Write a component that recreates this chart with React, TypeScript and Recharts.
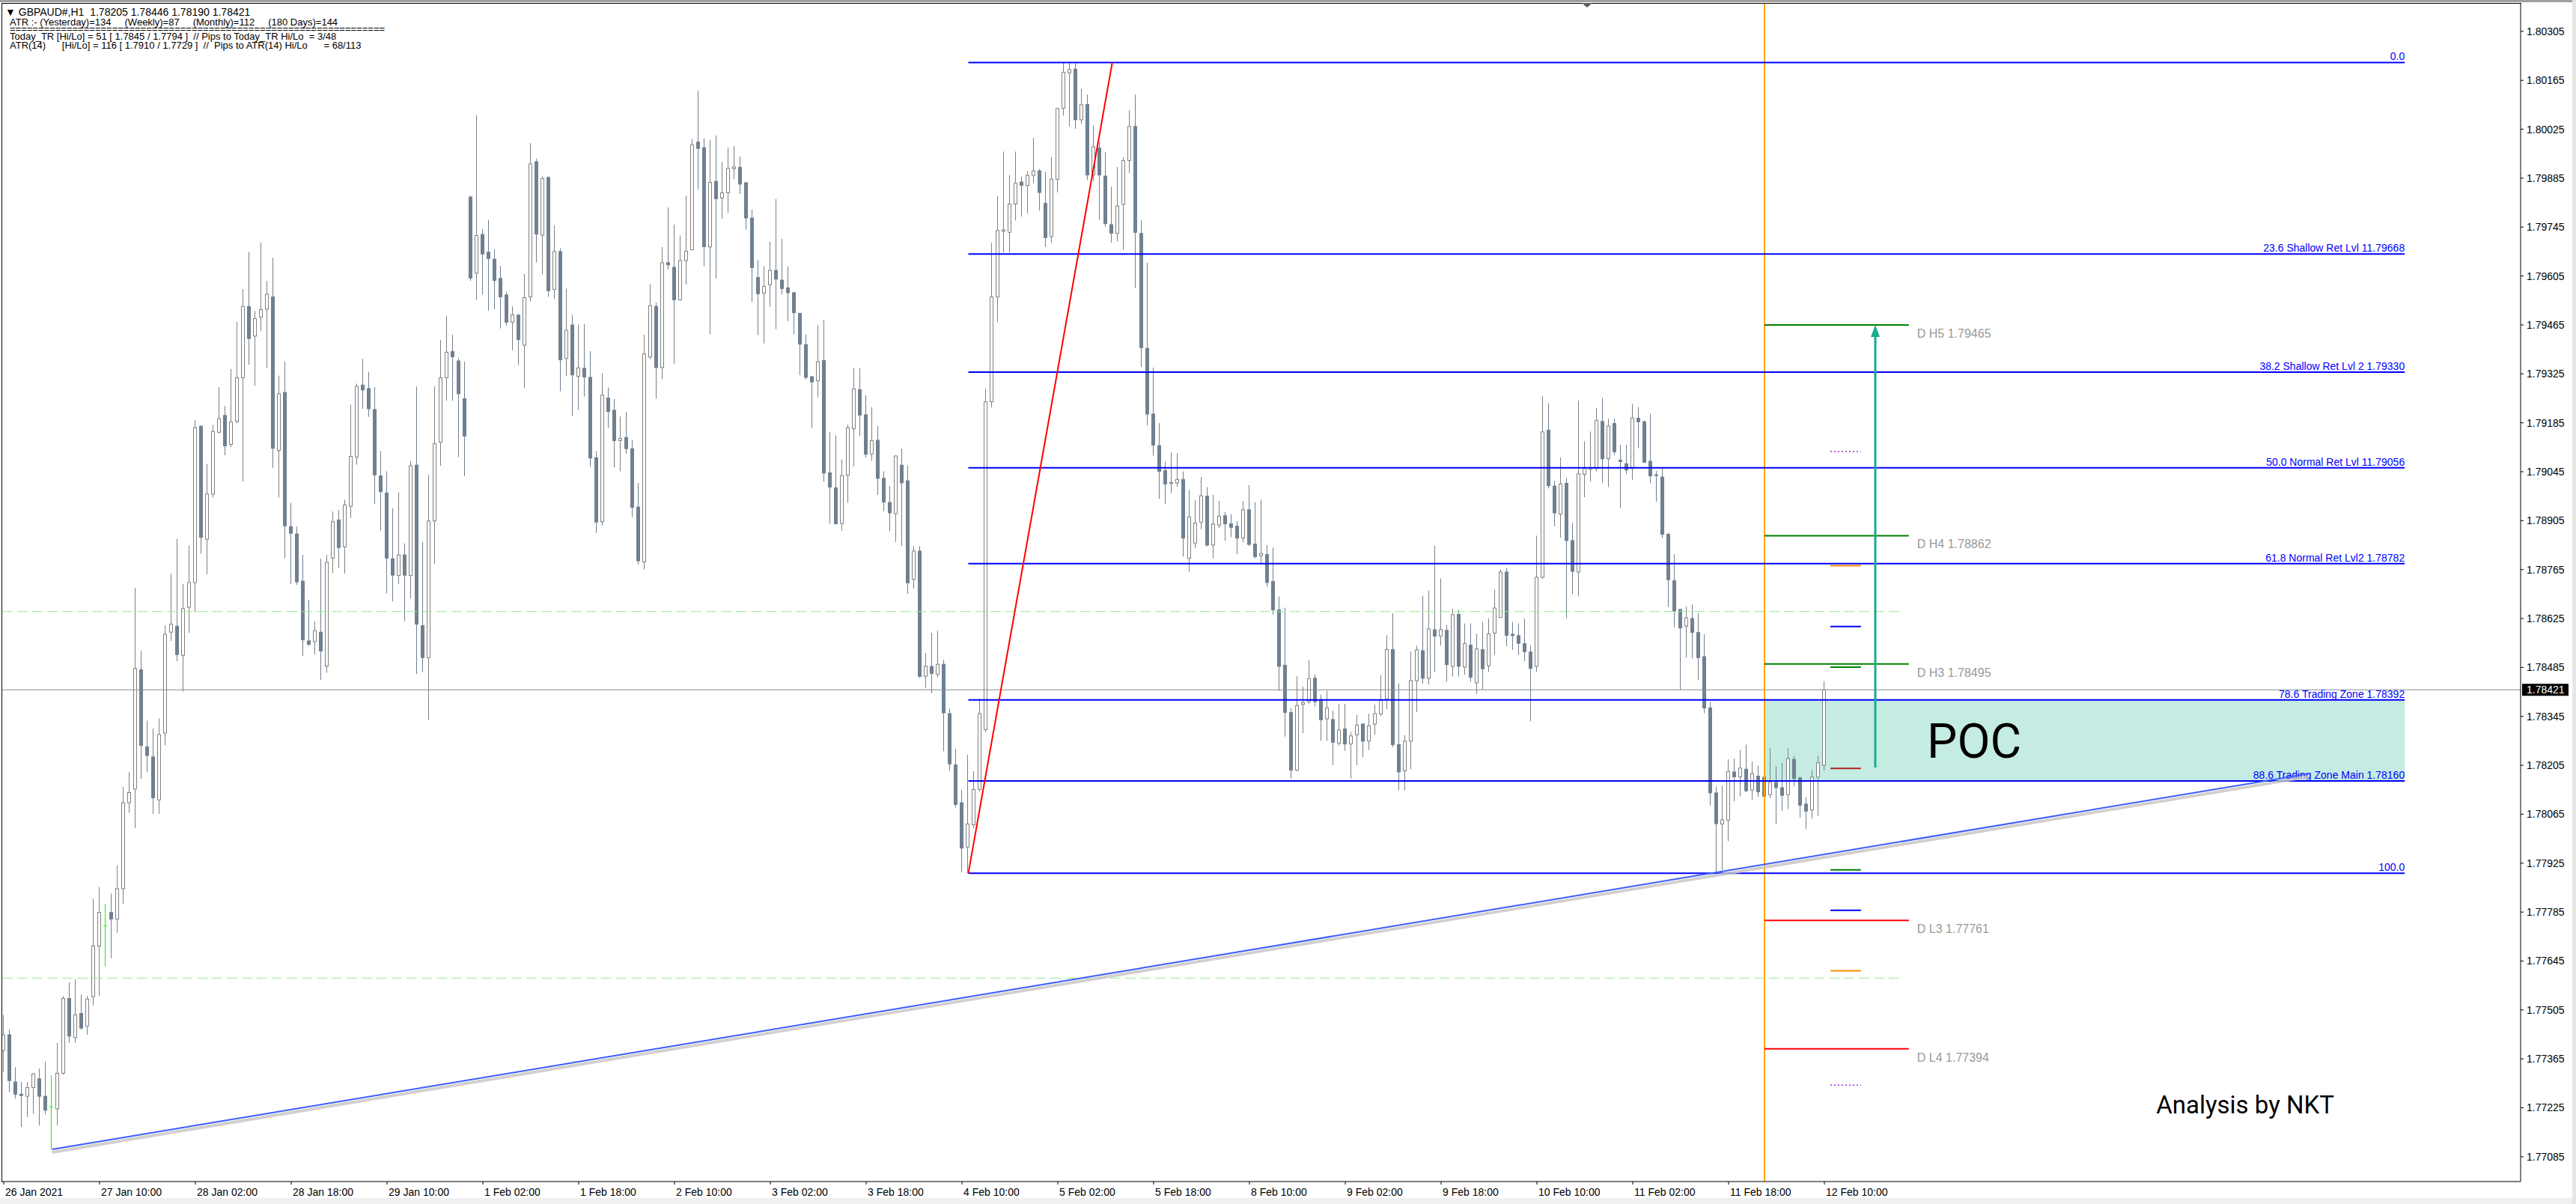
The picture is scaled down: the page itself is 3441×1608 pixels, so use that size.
import React from 'react';
import {
  ComposedChart,
  Bar,
  XAxis,
  YAxis,
  ReferenceLine,
  ReferenceArea,
  ReferenceDot
} from 'recharts';

const W = 3441;
const H = 1608;
const FONT = "'Liberation Sans', Arial, sans-serif";

// GBPAUD H1, bar 0 = 26 Jan 18:00, bar 304 = 12 Feb 10:00
const barOpen = [
  1.77389, 1.77434, 1.77299, 1.77264, 1.77258, 1.77283, 1.77308, 1.77258, 1.77228, 1.77222,
  1.77324, 1.77538, 1.77426, 1.77495, 1.77459, 1.77543, 1.77688, 1.77746, 1.77784, 1.77765,
  1.77852, 1.78098, 1.78137, 1.78478, 1.78258, 1.78229, 1.78106, 1.78297, 1.78586, 1.78603,
  1.78520, 1.78657, 1.78728, 1.79175, 1.78852, 1.78981, 1.79158, 1.79206, 1.79123, 1.79189,
  1.79314, 1.79518, 1.79433, 1.79487, 1.79510, 1.79545, 1.79106, 1.79272, 1.78888, 1.78867,
  1.78732, 1.78561, 1.78559, 1.78586, 1.78489, 1.78798, 1.78907, 1.78830, 1.78946, 1.79087,
  1.79293, 1.79283, 1.79223, 1.79033, 1.78984, 1.78796, 1.78748, 1.78807, 1.78748, 1.79064,
  1.78605, 1.78513, 1.78904, 1.79129, 1.79314, 1.79389, 1.79362, 1.79254, 1.79831, 1.79613,
  1.79724, 1.79673, 1.79653, 1.79598, 1.79551, 1.79473, 1.79493, 1.79407, 1.79545, 1.79932,
  1.79722, 1.79887, 1.79567, 1.79675, 1.79369, 1.79465, 1.79318, 1.79341, 1.79315, 1.79085,
  1.78902, 1.79256, 1.79221, 1.79134, 1.79143, 1.79111, 1.78944, 1.78787, 1.79373, 1.79518,
  1.79343, 1.79643, 1.79630, 1.79537, 1.79649, 1.79680, 1.79988, 1.79972, 1.79688, 1.79876,
  1.79828, 1.79843, 1.79912, 1.79916, 1.79872, 1.79771, 1.79601, 1.79556, 1.79580, 1.79621,
  1.79593, 1.79571, 1.79557, 1.79498, 1.79409, 1.79317, 1.79305, 1.79363, 1.79042, 1.78999,
  1.78897, 1.79035, 1.79168, 1.79280, 1.79208, 1.79096, 1.79135, 1.79026, 1.78957, 1.78925,
  1.79064, 1.79019, 1.78737, 1.78818, 1.78460, 1.78488, 1.78465, 1.78494, 1.78353, 1.78206,
  1.78098, 1.77971, 1.78035, 1.78136, 1.78307, 1.79245, 1.79545, 1.79733, 1.79730, 1.79811,
  1.79874, 1.79864, 1.79893, 1.79906, 1.79813, 1.79718, 1.79882, 1.80085, 1.80186, 1.80197,
  1.80052, 1.80096, 1.79894, 1.79971, 1.79891, 1.79752, 1.79727, 1.79810, 1.79935, 1.80033,
  1.79727, 1.79398, 1.79210, 1.79120, 1.79048, 1.79011, 1.79013, 1.79023, 1.78797, 1.78841,
  1.78901, 1.78975, 1.78835, 1.78892, 1.78919, 1.78896, 1.78889, 1.78855, 1.78936, 1.78838,
  1.78805, 1.78808, 1.78731, 1.78650, 1.78491, 1.78356, 1.78191, 1.78379, 1.78387, 1.78454,
  1.78390, 1.78338, 1.78336, 1.78268, 1.78309, 1.78266, 1.78292, 1.78323, 1.78274, 1.78323,
  1.78352, 1.78394, 1.78536, 1.78264, 1.78189, 1.78274, 1.78447, 1.78533, 1.78454, 1.78593,
  1.78575, 1.78591, 1.78488, 1.78637, 1.78486, 1.78549, 1.78441, 1.78536, 1.78490, 1.78583,
  1.78628, 1.78758, 1.78580, 1.78576, 1.78553, 1.78529, 1.78488, 1.78743, 1.79164, 1.79004,
  1.78924, 1.79012, 1.78848, 1.78758, 1.79037, 1.79052, 1.79054, 1.79189, 1.79082, 1.79183,
  1.79078, 1.79068, 1.79054, 1.79198, 1.79188, 1.79075, 1.79036, 1.79030, 1.78866, 1.78733,
  1.78651, 1.78603, 1.78625, 1.78585, 1.78516, 1.78369, 1.78126, 1.78037, 1.78048, 1.78186,
  1.78172, 1.78194, 1.78134, 1.78174, 1.78171, 1.78121, 1.78156, 1.78141, 1.78121, 1.78222,
  1.78169, 1.78094, 1.78077, 1.78171, 1.78205
];

const barHigh = [
  1.77491, 1.77449, 1.77341, 1.77299, 1.77299, 1.77325, 1.77337, 1.77357, 1.77318, 1.77411,
  1.77545, 1.77584, 1.77593, 1.77549, 1.77545, 1.77823, 1.77857, 1.77809, 1.77838, 1.77919,
  1.78143, 1.78185, 1.78713, 1.78532, 1.78333, 1.78310, 1.78339, 1.78605, 1.78753, 1.78853,
  1.78724, 1.78834, 1.79193, 1.79178, 1.79067, 1.79179, 1.79287, 1.79233, 1.79339, 1.79474,
  1.79568, 1.79674, 1.79505, 1.79701, 1.79591, 1.79657, 1.79320, 1.79360, 1.78956, 1.78888,
  1.78807, 1.78678, 1.78617, 1.78796, 1.78807, 1.78931, 1.78936, 1.78965, 1.79237, 1.79297,
  1.79368, 1.79331, 1.79287, 1.79104, 1.79046, 1.78940, 1.78986, 1.78840, 1.79075, 1.79289,
  1.78844, 1.79036, 1.79289, 1.79422, 1.79491, 1.79437, 1.79370, 1.79360, 1.79835, 1.80065,
  1.79739, 1.79766, 1.79681, 1.79634, 1.79560, 1.79518, 1.79497, 1.79611, 1.79985, 1.79941,
  1.79890, 1.79890, 1.79750, 1.79684, 1.79569, 1.79494, 1.79466, 1.79467, 1.79390, 1.79104,
  1.79327, 1.79286, 1.79253, 1.79203, 1.79216, 1.79135, 1.79013, 1.79437, 1.79582, 1.79529,
  1.79688, 1.79801, 1.79752, 1.79721, 1.79835, 1.79997, 1.80135, 1.79998, 1.79994, 1.80007,
  1.79932, 1.79972, 1.79977, 1.79947, 1.79873, 1.79795, 1.79651, 1.79633, 1.79703, 1.79825,
  1.79711, 1.79632, 1.79560, 1.79500, 1.79438, 1.79319, 1.79464, 1.79480, 1.79158, 1.79149,
  1.79080, 1.79180, 1.79341, 1.79341, 1.79264, 1.79230, 1.79176, 1.79046, 1.79004, 1.79092,
  1.79111, 1.79063, 1.78832, 1.78832, 1.78526, 1.78584, 1.78590, 1.78506, 1.78367, 1.78252,
  1.78134, 1.78235, 1.78188, 1.78396, 1.79282, 1.79700, 1.79833, 1.79961, 1.79894, 1.79961,
  1.79890, 1.79905, 1.80000, 1.79911, 1.79903, 1.79945, 1.80087, 1.80216, 1.80216, 1.80214,
  1.80141, 1.80124, 1.80036, 1.79988, 1.79960, 1.79860, 1.79917, 1.79945, 1.80079, 1.80124,
  1.79764, 1.79643, 1.79343, 1.79184, 1.79074, 1.79100, 1.79098, 1.79046, 1.78993, 1.78964,
  1.79030, 1.79001, 1.78979, 1.78962, 1.78930, 1.78923, 1.78904, 1.78961, 1.79007, 1.78958,
  1.78965, 1.78835, 1.78828, 1.78688, 1.78656, 1.78369, 1.78460, 1.78430, 1.78506, 1.78465,
  1.78407, 1.78418, 1.78361, 1.78381, 1.78381, 1.78300, 1.78349, 1.78326, 1.78353, 1.78379,
  1.78463, 1.78577, 1.78640, 1.78439, 1.78291, 1.78530, 1.78547, 1.78690, 1.78705, 1.78833,
  1.78740, 1.78606, 1.78653, 1.78650, 1.78611, 1.78611, 1.78581, 1.78615, 1.78625, 1.78708,
  1.78765, 1.78770, 1.78615, 1.78611, 1.78625, 1.78548, 1.78862, 1.79261, 1.79241, 1.79019,
  1.79086, 1.79027, 1.78899, 1.79248, 1.79132, 1.79160, 1.79227, 1.79256, 1.79197, 1.79197,
  1.79122, 1.79122, 1.79239, 1.79230, 1.79192, 1.79211, 1.79047, 1.79057, 1.78870, 1.78809,
  1.78653, 1.78659, 1.78665, 1.78640, 1.78580, 1.78386, 1.78144, 1.78146, 1.78222, 1.78224,
  1.78249, 1.78264, 1.78216, 1.78204, 1.78186, 1.78254, 1.78202, 1.78212, 1.78254, 1.78231,
  1.78172, 1.78114, 1.78192, 1.78232, 1.78446
];

const barLow = [
  1.77328, 1.77270, 1.77251, 1.77170, 1.77199, 1.77208, 1.77174, 1.77206, 1.77106, 1.77174,
  1.77320, 1.77411, 1.77411, 1.77449, 1.77434, 1.77518, 1.77545, 1.77630, 1.77653, 1.77726,
  1.77809, 1.78069, 1.78025, 1.78166, 1.78185, 1.78066, 1.78066, 1.78262, 1.78561, 1.78503,
  1.78416, 1.78584, 1.78643, 1.78811, 1.78751, 1.78971, 1.79155, 1.79092, 1.79116, 1.79183,
  1.79017, 1.79351, 1.79291, 1.79447, 1.79341, 1.79056, 1.78971, 1.78798, 1.78724, 1.78721,
  1.78518, 1.78547, 1.78522, 1.78449, 1.78470, 1.78755, 1.78769, 1.78753, 1.78913, 1.79065,
  1.79225, 1.79202, 1.78952, 1.78877, 1.78697, 1.78674, 1.78724, 1.78617, 1.78682, 1.78466,
  1.78472, 1.78335, 1.78782, 1.79062, 1.79248, 1.79248, 1.79087, 1.79032, 1.79591, 1.79536,
  1.79552, 1.79506, 1.79510, 1.79455, 1.79463, 1.79393, 1.79350, 1.79284, 1.79533, 1.79644,
  1.79610, 1.79545, 1.79539, 1.79275, 1.79319, 1.79204, 1.79222, 1.79260, 1.79059, 1.78870,
  1.78891, 1.79171, 1.79058, 1.79046, 1.79096, 1.78915, 1.78780, 1.78765, 1.79367, 1.79254,
  1.79310, 1.79623, 1.79354, 1.79534, 1.79581, 1.79679, 1.79853, 1.79633, 1.79438, 1.79598,
  1.79769, 1.79786, 1.79882, 1.79840, 1.79738, 1.79530, 1.79436, 1.79412, 1.79517, 1.79453,
  1.79552, 1.79476, 1.79438, 1.79321, 1.79309, 1.79170, 1.79258, 1.79017, 1.78896, 1.78894,
  1.78876, 1.78956, 1.79060, 1.79147, 1.79086, 1.79076, 1.78979, 1.78932, 1.78875, 1.78844,
  1.78832, 1.78696, 1.78710, 1.78456, 1.78425, 1.78411, 1.78457, 1.78245, 1.78190, 1.78084,
  1.77899, 1.77896, 1.78024, 1.78130, 1.78300, 1.79229, 1.79473, 1.79672, 1.79672, 1.79764,
  1.79775, 1.79784, 1.79871, 1.79792, 1.79688, 1.79700, 1.79844, 1.80064, 1.80033, 1.80026,
  1.80040, 1.79879, 1.79876, 1.79766, 1.79746, 1.79700, 1.79704, 1.79680, 1.79899, 1.79570,
  1.79345, 1.79177, 1.79091, 1.78967, 1.78953, 1.78984, 1.79002, 1.78802, 1.78759, 1.78826,
  1.78880, 1.78831, 1.78797, 1.78884, 1.78847, 1.78858, 1.78809, 1.78843, 1.78832, 1.78797,
  1.78780, 1.78716, 1.78636, 1.78418, 1.78287, 1.78167, 1.78188, 1.78297, 1.78381, 1.78373,
  1.78275, 1.78275, 1.78206, 1.78261, 1.78246, 1.78167, 1.78205, 1.78228, 1.78249, 1.78292,
  1.78346, 1.78366, 1.78257, 1.78134, 1.78134, 1.78193, 1.78357, 1.78439, 1.78436, 1.78471,
  1.78547, 1.78444, 1.78459, 1.78459, 1.78464, 1.78444, 1.78409, 1.78422, 1.78472, 1.78521,
  1.78627, 1.78546, 1.78535, 1.78521, 1.78503, 1.78331, 1.78472, 1.78738, 1.78997, 1.78889,
  1.78856, 1.78626, 1.78695, 1.78688, 1.78972, 1.79017, 1.79046, 1.79014, 1.79001, 1.79094,
  1.78941, 1.79038, 1.79022, 1.79112, 1.79070, 1.79012, 1.78959, 1.78855, 1.78658, 1.78600,
  1.78422, 1.78513, 1.78510, 1.78449, 1.78354, 1.78090, 1.77900, 1.77905, 1.77988, 1.78102,
  1.78116, 1.78129, 1.78105, 1.78114, 1.77945, 1.78112, 1.78037, 1.78075, 1.78080, 1.78144,
  1.78055, 1.78022, 1.78052, 1.78060, 1.78190
];

const barClose = [
  1.77434, 1.77303, 1.77264, 1.77260, 1.77283, 1.77322, 1.77258, 1.77218, 1.77228, 1.77324,
  1.77538, 1.77430, 1.77491, 1.77453, 1.77536, 1.77688, 1.77784, 1.77746, 1.77765, 1.77852,
  1.78098, 1.78127, 1.78482, 1.78262, 1.78233, 1.78112, 1.78293, 1.78580, 1.78609, 1.78522,
  1.78653, 1.78728, 1.79171, 1.78857, 1.78981, 1.79160, 1.79197, 1.79119, 1.79187, 1.79314,
  1.79518, 1.79426, 1.79483, 1.79509, 1.79553, 1.79112, 1.79268, 1.78890, 1.78869, 1.78730,
  1.78564, 1.78551, 1.78590, 1.78532, 1.78786, 1.78902, 1.78828, 1.78950, 1.79089, 1.79289,
  1.79279, 1.79225, 1.79036, 1.78988, 1.78798, 1.78749, 1.78807, 1.78749, 1.79062, 1.78609,
  1.78513, 1.78904, 1.79125, 1.79314, 1.79387, 1.79374, 1.79268, 1.79147, 1.79599, 1.79721,
  1.79668, 1.79655, 1.79592, 1.79545, 1.79473, 1.79494, 1.79423, 1.79543, 1.79926, 1.79725,
  1.79884, 1.79563, 1.79675, 1.79365, 1.79450, 1.79322, 1.79342, 1.79316, 1.79084, 1.78901,
  1.79264, 1.79217, 1.79134, 1.79140, 1.79111, 1.78943, 1.78790, 1.79382, 1.79520, 1.79343,
  1.79643, 1.79637, 1.79537, 1.79649, 1.79676, 1.79980, 1.79970, 1.79689, 1.79873, 1.79826,
  1.79843, 1.79913, 1.79917, 1.79868, 1.79771, 1.79629, 1.79554, 1.79575, 1.79621, 1.79596,
  1.79569, 1.79557, 1.79500, 1.79410, 1.79315, 1.79302, 1.79360, 1.79041, 1.79001, 1.78896,
  1.79034, 1.79171, 1.79282, 1.79207, 1.79095, 1.79134, 1.79026, 1.78958, 1.78927, 1.79090,
  1.79013, 1.78727, 1.78818, 1.78459, 1.78489, 1.78468, 1.78494, 1.78355, 1.78209, 1.78093,
  1.77968, 1.78037, 1.78136, 1.78353, 1.79245, 1.79545, 1.79735, 1.79737, 1.79811, 1.79871,
  1.79864, 1.79893, 1.79906, 1.79844, 1.79715, 1.79882, 1.80084, 1.80188, 1.80196, 1.80052,
  1.80095, 1.79894, 1.79975, 1.79894, 1.79755, 1.79727, 1.79805, 1.79935, 1.80033, 1.79730,
  1.79400, 1.79210, 1.79121, 1.79046, 1.79010, 1.79014, 1.79023, 1.78855, 1.78916, 1.78898,
  1.78976, 1.78835, 1.78895, 1.78918, 1.78896, 1.78886, 1.78855, 1.78936, 1.78837, 1.78802,
  1.78811, 1.78728, 1.78650, 1.78488, 1.78356, 1.78191, 1.78376, 1.78384, 1.78453, 1.78387,
  1.78335, 1.78369, 1.78271, 1.78306, 1.78266, 1.78289, 1.78320, 1.78274, 1.78318, 1.78353,
  1.78391, 1.78536, 1.78264, 1.78186, 1.78274, 1.78447, 1.78535, 1.78454, 1.78595, 1.78575,
  1.78593, 1.78493, 1.78636, 1.78488, 1.78553, 1.78457, 1.78538, 1.78481, 1.78581, 1.78655,
  1.78758, 1.78577, 1.78576, 1.78554, 1.78530, 1.78482, 1.78743, 1.79159, 1.79005, 1.78927,
  1.79010, 1.78848, 1.78760, 1.79039, 1.79054, 1.79057, 1.79192, 1.79082, 1.79176, 1.79102,
  1.79074, 1.79050, 1.79199, 1.79188, 1.79072, 1.79033, 1.79034, 1.78866, 1.78736, 1.78646,
  1.78598, 1.78627, 1.78585, 1.78513, 1.78369, 1.78126, 1.78038, 1.78049, 1.78187, 1.78172,
  1.78197, 1.78132, 1.78181, 1.78129, 1.78116, 1.78156, 1.78141, 1.78119, 1.78224, 1.78167,
  1.78091, 1.78074, 1.78171, 1.78212, 1.78421
];

const xTickBars = [0, 16, 32, 48, 64, 80, 96, 112, 128, 144, 160, 176, 192, 208, 224, 240, 256, 272, 288, 304];
const xTickLabels = [
  '26 Jan 2021', '27 Jan 10:00', '28 Jan 02:00', '28 Jan 18:00', '29 Jan 10:00',
  '1 Feb 02:00', '1 Feb 18:00', '2 Feb 10:00', '3 Feb 02:00', '3 Feb 18:00',
  '4 Feb 10:00', '5 Feb 02:00', '5 Feb 18:00', '8 Feb 10:00', '9 Feb 02:00',
  '9 Feb 18:00', '10 Feb 10:00', '11 Feb 02:00', '11 Feb 18:00', '12 Feb 10:00'
];
const yTicks = [
  1.80305, 1.80165, 1.80025, 1.79885, 1.79745, 1.79605, 1.79465, 1.79325, 1.79185, 1.79045,
  1.78905, 1.78765, 1.78625, 1.78485, 1.78345, 1.78205, 1.78065, 1.77925, 1.77785, 1.77645,
  1.77505, 1.77365, 1.77225, 1.77085
];
const xRange = [-0.25, 420.25];
const yRange = [1.77014, 1.80384];

// fibonacci retracement
const fibPrices = [1.80216, 1.79668, 1.7933, 1.79056, 1.78782, 1.78392, 1.7816, 1.77896];
const fibLabels = [
  '0.0', '23.6 Shallow Ret Lvl 11.79668', '38.2 Shallow Ret Lvl 2 1.79330',
  '50.0 Normal Ret Lvl 11.79056', '61.8 Normal Ret Lvl2 1.78782', '78.6 Trading Zone 1.78392',
  '88.6 Trading Zone Main 1.78160', '100.0'
];
const fibFromBar = 161.06;
const fibToBar = 400.9;
const swingBars = [161.06, 185.1];
const swingPrices = [1.77896, 1.80216];

// daily pivots
const pivotPrices = [1.79465, 1.78862, 1.78495, 1.77761, 1.77394];
const pivotNames = ['H5', 'H4', 'H3', 'L3', 'L4'];
const pivotColors = ['#008000', '#008000', '#008000', '#ff0000', '#ff0000'];
const pivotBars = [294, 318.1];

const markPrices = [1.79103, 1.78776, 1.78602, 1.78486, 1.78196, 1.77906, 1.7779, 1.77617, 1.7729];
const markColors = ['#9932cc', '#ff8c00', '#0000ff', '#008000', '#b22222', '#008000', '#0000ff', '#ff8c00', '#9932cc'];
const markBars = [305, 310.1];

const dashedPrices = [1.78645, 1.77596];
const dashedBars = [-0.25, 317.1];

const lastPrice = 1.78421;
const dayStartBar = 294;
const trendBars = [8.07, 384.9];
const trendPrices = [1.77106, 1.78181];
const pocPrices = [1.7816, 1.78392];
const targetBar = 312.5;
const targetPrices = [1.78199, 1.79465];
const signBar = 359.4;
const signPrice = 1.7721;

const candles = barOpen.map((o, i) => ({
  k: i,
  o,
  h: barHigh[i],
  l: barLow[i],
  c: barClose[i],
  range: [barLow[i], barHigh[i]]
}));

const Candle = (props: any) => {
  const { x, y, width, height, payload } = props;
  if (!payload) return null;
  const top = Math.min(y, y + height);
  const bot = Math.max(y, y + height);
  const py = (p: number) => bot - ((p - payload.l) / (payload.h - payload.l)) * (bot - top);
  const cx = Math.floor(x + width / 2) + 0.5;
  const yo = py(payload.o);
  const yc = py(payload.c);
  if (payload.o === payload.c) {
    return (
      <g>
        <line x1={cx} x2={cx} y1={top} y2={bot} stroke="#00ff00" />
        <line x1={cx - 2.5} x2={cx + 2.5} y1={yo} y2={yo} stroke="#00ff00" />
      </g>
    );
  }
  const up = payload.c > payload.o;
  const col = up ? '#808080' : '#708090';
  return (
    <g>
      <line x1={cx} x2={cx} y1={top} y2={bot} stroke={col} />
      <rect
        x={cx - 2}
        y={Math.min(yo, yc)}
        width={4}
        height={Math.max(Math.abs(yc - yo), 1)}
        fill={up ? '#ffffff' : '#708090'}
        stroke={col}
      />
    </g>
  );
};

const XTick = (props: any) => {
  const { x, y, payload } = props;
  const idx = xTickBars.indexOf(payload.value);
  return (
    <text x={x + 2} y={y + 13} fontSize={14} fontFamily={FONT} fill="#000">
      {xTickLabels[idx]}
    </text>
  );
};

const fibShape = (label: string) => (p: any) => (
  <g>
    <line x1={p.x1} y1={p.y1} x2={p.x2} y2={p.y2} stroke="#0000ff" strokeWidth={2} />
    <text
      x={Math.max(p.x1, p.x2)}
      y={p.y1 - 3}
      textAnchor="end"
      fontSize={14}
      fontFamily={FONT}
      fill="#0000ff"
    >
      {label}
    </text>
  </g>
);

const pivotShape = (label: string, color: string) => (p: any) => (
  <g>
    <line x1={p.x1} y1={p.y1} x2={p.x2} y2={p.y2} stroke={color} strokeWidth={2} />
    <text x={Math.max(p.x1, p.x2) + 11} y={p.y1 + 17} fontSize={16} fontFamily={FONT} fill="#999999">
      {label}
    </text>
  </g>
);

const trendShape = (p: any) => (
  <g>
    <line x1={p.x1} y1={p.y1 + 4} x2={p.x2} y2={p.y2 + 4} stroke="#c4c4c4" strokeWidth={4} strokeOpacity={0.8} />
    <line x1={p.x1} y1={p.y1} x2={p.x2} y2={p.y2} stroke="#3d5bff" strokeWidth={2} />
  </g>
);

const arrowShape = (p: any) => {
  const topY = Math.min(p.y1, p.y2);
  const botY = Math.max(p.y1, p.y2);
  return (
    <g>
      <line x1={p.x1} y1={botY} x2={p.x1} y2={topY + 12} stroke="#1aab8f" strokeWidth={3} />
      <polygon points={`${p.x1 - 6},${topY + 16} ${p.x1 + 6},${topY + 16} ${p.x1},${topY}`} fill="#1aab8f" />
    </g>
  );
};

const lastPriceShape = (p: any) => {
  const right = Math.max(p.x1, p.x2);
  return (
    <g>
      <line x1={p.x1} y1={p.y1} x2={p.x2} y2={p.y2} stroke="#7f8c99" strokeWidth={1} />
      <rect x={right + 2} y={p.y1 - 8} width={62} height={16} fill="#000" />
      <text x={right + 8} y={p.y1 + 5} fontSize={14} fontFamily={FONT} fill="#fff">
        {lastPrice.toFixed(5)}
      </text>
    </g>
  );
};

const pocShape = (p: any) => (
  <g>
    <rect x={p.x} y={p.y} width={p.width} height={p.height} fill="#3cbf9f" fillOpacity={0.3} />
    <text x={p.x + 217} y={p.y + 77} fontSize={64} fontFamily="Roboto, sans-serif" fill="#000">
      POC
    </text>
  </g>
);

const signShape = (p: any) => (
  <text x={p.cx} y={p.cy} fontSize={33} fontFamily="Roboto, sans-serif" fill="#000">
    Analysis by NKT
  </text>
);

const headerTitle = '\u25BC GBPAUD#,H1  1.78205 1.78446 1.78190 1.78421';
const headerLines = [
  'ATR :- (Yesterday)=134     (Weekly)=87     (Monthly)=112     (180 Days)=144',
  '==================================================================',
  'Today_TR [Hi/Lo] = 51 [ 1.7845 / 1.7794 ]  // Pips to Today_TR Hi/Lo  = 3/48',
  'ATR(14)      [Hi/Lo] = 116 [ 1.7910 / 1.7729 ]  //  Pips to ATR(14) Hi/Lo      = 68/113'
];
const headerTops = [22, 31, 41, 53];

const App = () => {
  return (
    <div style={{ position: 'fixed', left: 0, top: 0, width: W, height: H, background: '#ffffff', overflow: 'hidden' }}>
      <div style={{ position: 'absolute', left: 0, top: 0, width: W, height: 3, background: '#a0a0a0' }} />
      <div style={{ position: 'absolute', left: 0, top: 1600, width: W, height: 8, background: '#f0f0f0' }} />
      <div style={{ position: 'absolute', left: 3436, top: 0, width: 5, height: H, background: '#e6e6e6' }} />
      <div style={{ position: 'absolute', left: 2, top: 4, width: 3365, height: 1574, borderLeft: '1px solid #000', borderTop: '1px solid #000' }} />
      <ComposedChart
        width={W}
        height={H}
        data={candles}
        margin={{ top: 5, right: 0, bottom: 0, left: 3 }}
        style={{ position: 'absolute', left: 0, top: 0 }}
      >
        <XAxis
          dataKey="k"
          type="number"
          domain={xRange}
          allowDataOverflow
          ticks={xTickBars}
          interval={0}
          height={30}
          tickSize={4}
          axisLine={{ stroke: '#000' }}
          tickLine={{ stroke: '#000' }}
          tick={(p: any) => <XTick {...p} />}
        />
        <YAxis
          orientation="right"
          width={74}
          domain={yRange}
          allowDataOverflow
          ticks={yTicks}
          interval={0}
          tickSize={4}
          tickMargin={4}
          axisLine={{ stroke: '#000' }}
          tickLine={{ stroke: '#000' }}
          tick={{ fill: '#000', fontSize: 14, fontFamily: FONT }}
          tickFormatter={(v: number) => v.toFixed(5)}
        />
        <ReferenceArea
          x1={dayStartBar}
          x2={fibToBar}
          y1={pocPrices[0]}
          y2={pocPrices[1]}
          shape={pocShape}
          ifOverflow="visible"
        />
        {dashedPrices.map((p) => (
          <ReferenceLine
            key={'d' + p}
            segment={[{ x: dashedBars[0], y: p }, { x: dashedBars[1], y: p }]}
            stroke="#90ee90"
            strokeDasharray="14 6"
            ifOverflow="visible"
          />
        ))}
        <Bar dataKey="range" barSize={5} shape={Candle} isAnimationActive={false} />
        <ReferenceLine y={lastPrice} shape={lastPriceShape} ifOverflow="visible" />
        <ReferenceLine x={dayStartBar} stroke="#ffa500" strokeWidth={2} />
        {fibPrices.map((p, i) => (
          <ReferenceLine
            key={'f' + i}
            segment={[{ x: fibFromBar, y: p }, { x: fibToBar, y: p }]}
            shape={fibShape(fibLabels[i])}
            ifOverflow="visible"
          />
        ))}
        <ReferenceLine
          segment={[{ x: swingBars[0], y: swingPrices[0] }, { x: swingBars[1], y: swingPrices[1] }]}
          stroke="#ff0000"
          strokeWidth={2}
          ifOverflow="visible"
        />
        <ReferenceLine
          segment={[{ x: trendBars[0], y: trendPrices[0] }, { x: trendBars[1], y: trendPrices[1] }]}
          shape={trendShape}
          ifOverflow="visible"
        />
        {pivotPrices.map((p, i) => (
          <ReferenceLine
            key={'p' + i}
            segment={[{ x: pivotBars[0], y: p }, { x: pivotBars[1], y: p }]}
            shape={pivotShape(`D  ${pivotNames[i]} ${p.toFixed(5)}`, pivotColors[i])}
            ifOverflow="visible"
          />
        ))}
        {markPrices.map((p, i) => (
          <ReferenceLine
            key={'m' + i}
            segment={[{ x: markBars[0], y: p }, { x: markBars[1], y: p }]}
            stroke={markColors[i]}
            strokeWidth={markColors[i] === '#9932cc' ? 1.5 : 2}
            strokeDasharray={markColors[i] === '#9932cc' ? '2 3' : undefined}
            ifOverflow="visible"
          />
        ))}
        <ReferenceLine
          segment={[{ x: targetBar, y: targetPrices[0] }, { x: targetBar, y: targetPrices[1] }]}
          shape={arrowShape}
          ifOverflow="visible"
        />
        <ReferenceDot x={signBar} y={signPrice} r={0} shape={signShape} ifOverflow="visible" />
      </ComposedChart>
      <svg style={{ position: 'absolute', left: 0, top: 0 }} width={W} height={12}>
        <polygon points="2113,4 2127,4 2120,10" fill="#5a5a5a" />
      </svg>
      <div style={{ position: 'absolute', left: 7, top: 8, fontFamily: FONT, fontSize: 14, whiteSpace: 'pre', color: '#000', lineHeight: '16px' }}>
        {headerTitle}
      </div>
      {headerLines.map((t, i) => (
        <div
          key={i}
          style={{ position: 'absolute', left: 13, top: headerTops[i], fontFamily: FONT, fontSize: 13, whiteSpace: 'pre', color: '#000', lineHeight: '16px' }}
        >
          {t}
        </div>
      ))}
    </div>
  );
};

export default App;
